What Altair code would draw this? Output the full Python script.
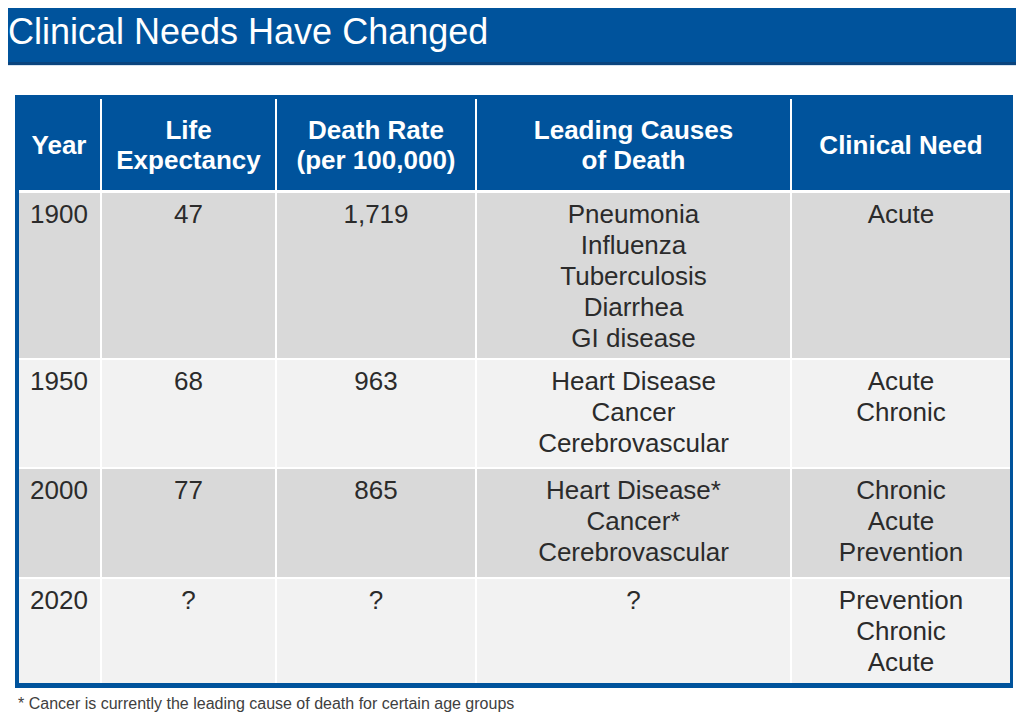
import altair as alt
import pandas as pd

# ---------------- data ----------------
title = "Clinical Needs Have Changed"
headers = [["Year"], ["Life", "Expectancy"], ["Death Rate", "(per 100,000)"],
           ["Leading Causes", "of Death"], ["Clinical Need"]]
years = ["1900", "1950", "2000", "2020"]
life_expectancy = ["47", "68", "77", "?"]
death_rate = ["1,719", "963", "865", "?"]
leading_causes = [
    ["Pneumonia", "Influenza", "Tuberculosis", "Diarrhea", "GI disease"],
    ["Heart Disease", "Cancer", "Cerebrovascular"],
    ["Heart Disease*", "Cancer*", "Cerebrovascular"],
    ["?"],
]
clinical_need = [
    ["Acute"],
    ["Acute", "Chronic"],
    ["Chronic", "Acute", "Prevention"],
    ["Prevention", "Chronic", "Acute"],
]
footnote = "* Cancer is currently the leading cause of death for certain age groups"

# ---------------- layout (pixel geometry of the table) ----------------
W, H = 1008, 705
OFF = 8
BLUE = "#00539C"
ROW_FILLS = ["#D9D9D9", "#F2F2F2", "#D9D9D9", "#F2F2F2"]
TEXT = "#2B2B2B"
FONT = "Liberation Sans"

col_left = [19, 102, 277, 477, 792]
col_right = [100, 275, 475, 790, 1010]
row_top = [193, 360, 469, 579]
row_bottom = [358, 467, 577, 683]
seps = [100, 275, 475, 790]

rects = []
def rect(x, x2, y, y2, fill):
    rects.append(dict(x=x, x2=x2, y=y, y2=y2, fill=fill))

rect(0, 1024, 0, 65, BLUE)                 # banner
rect(0, 1024, 62, 65, "#0A447E")          # banner bottom edge
rect(0, 1024, 65, 66, "#D6E3F0")
rect(15, 1013, 95, 688, BLUE)              # table frame + header
rect(19, 1010, 190, 683, "#FFFFFF")        # body background (grid lines)
for s in seps:
    rect(s, s + 2, 99, 190, "#FFFFFF")     # header separators
for r in range(4):
    for c in range(5):
        rect(col_left[c], col_right[c], row_top[r], row_bottom[r], ROW_FILLS[r])
rect_df = pd.DataFrame(rects)

texts = []
def add(lines, x, y0, step, align, color, size, weight):
    for i, t in enumerate(lines):
        texts.append(dict(x=x, y=y0 + i * step, t=t, align=align, color=color,
                          size=size, weight=weight))

col_center = [(a + b) / 2 for a, b in zip(col_left, col_right)]
col_center[0] = 59
for c, h in enumerate(headers):
    n = len(h)
    add(h, col_center[c], 146 - (n - 1) * 15, 30, "center", "#FFFFFF", 26, "bold")

for r in range(4):
    y0 = row_top[r] + 22
    add([years[r]], 30, y0, 31, "left", TEXT, 26, "normal")
    add([life_expectancy[r]], col_center[1], y0, 31, "center", TEXT, 26, "normal")
    add([death_rate[r]], col_center[2], y0, 31, "center", TEXT, 26, "normal")
    add(leading_causes[r], col_center[3], y0, 31, "center", TEXT, 26, "normal")
    add(clinical_need[r], col_center[4], y0, 31, "center", TEXT, 26, "normal")

add([footnote], 18, 704, 0, "left", "#404040", 16, "normal")
text_df = pd.DataFrame(texts)

xs = alt.Scale(domain=[OFF, OFF + W], range=[0, W])
ys = alt.Scale(domain=[OFF, OFF + H], range=[0, H])

rect_layer = alt.Chart(rect_df).mark_rect(strokeWidth=0).encode(
    x=alt.X("x:Q", scale=xs, axis=None),
    x2="x2:Q",
    y=alt.Y("y:Q", scale=ys, axis=None),
    y2="y2:Q",
    color=alt.Color("fill:N", scale=None),
)

layers = [rect_layer]
for (align, weight, size), g in text_df.groupby(["align", "weight", "size"]):
    layers.append(
        alt.Chart(g).mark_text(align=align, baseline="middle", font=FONT,
                               fontSize=int(size), fontWeight=weight).encode(
            x=alt.X("x:Q", scale=xs, axis=None),
            y=alt.Y("y:Q", scale=ys, axis=None),
            text="t:N",
            color=alt.Color("color:N", scale=None),
        )
    )

title_layer = alt.Chart(pd.DataFrame([dict(x=8, y=44, t=title)])).mark_text(
    align="left", baseline="alphabetic", font=FONT, fontSize=36, color="#FFFFFF"
).encode(
    x=alt.X("x:Q", scale=xs, axis=None),
    y=alt.Y("y:Q", scale=ys, axis=None),
    text="t:N",
)
layers.append(title_layer)

chart = alt.layer(*layers).properties(
    width=W, height=H, padding=0, autosize=alt.AutoSizeParams(type="none"),
    background="#FFFFFF",
).configure_view(stroke=None)

chart.save("out.html", embed_options={"renderer": "svg", "actions": False})
